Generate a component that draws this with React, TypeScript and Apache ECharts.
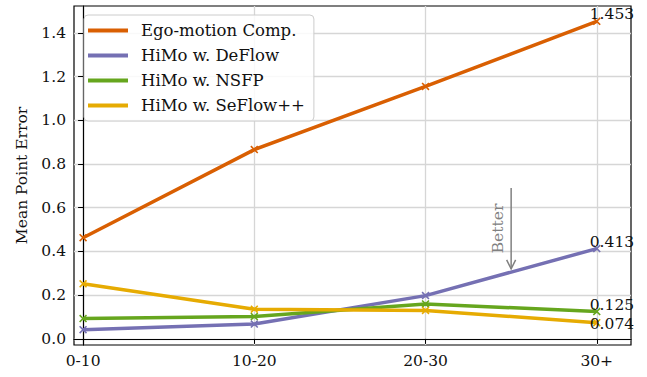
import React, { useEffect, useRef } from "react";
import * as echarts from "echarts";

const categories = ["0-10", "10-20", "20-30", "30+"];
const seriesNames = ["Ego-motion Comp.", "HiMo w. DeFlow", "HiMo w. NSFP", "HiMo w. SeFlow++"];
const egoMotion = [0.463, 0.866, 1.155, 1.453];
const deflow = [0.042, 0.068, 0.198, 0.413];
const nsfp = [0.093, 0.102, 0.16, 0.125];
const seflow = [0.252, 0.136, 0.13, 0.074];
const colors = ["#d95f02", "#7570b3", "#66a61e", "#e6ab02"];
const yTicks = [0, 0.2, 0.4, 0.6, 0.8, 1.0, 1.2, 1.4];
const xTicks = [0, 1, 2, 3];
// annotation: arrow at x, from yStart to yEnd, text
const arrowX = 2.5;
const arrowYStart = 0.69;
const arrowYEnd = 0.32;
const arrowText = "Better";

const FONT = "DejaVu Serif";
const X_MARK = "path://M0,1.4 L1.4,0 L5,3.6 L8.6,0 L10,1.4 L6.4,5 L10,8.6 L8.6,10 L5,6.4 L1.4,10 L0,8.6 L3.6,5 Z";

export default function App() {
  const ref = useRef<HTMLDivElement>(null);
  useEffect(() => {
    if (!ref.current) return;
    const chart = echarts.init(ref.current, null, { renderer: "svg" });
    const allSeries = [egoMotion, deflow, nsfp, seflow];
    const lineSeries = allSeries.map((vals, si) => ({
      type: "line",
      name: seriesNames[si],
      symbol: X_MARK,
      symbolSize: 8,
      lineStyle: { width: 3.5, color: colors[si] },
      itemStyle: { color: colors[si] },
      z: 3 + si,
      data: vals.map((v, i) => ({
        value: [xTicks[i], v],
        label: {
          show: i === vals.length - 1,
          position: "inside",
          align: "left",
          verticalAlign: si === 3 ? "middle" : "bottom",
          offset: [-7, 1],
          formatter: (p: any) => p.value[1].toFixed(3),
          color: "#111",
          fontFamily: FONT,
          fontSize: 15.5,
        },
      })),
    }));
    const annotation = {
      type: "custom",
      name: "annotation",
      silent: true,
      z: 10,
      data: [[arrowX, arrowYStart, arrowYEnd]],
      renderItem: (params: any, api: any) => {
        const p0 = api.coord([api.value(0), api.value(1)]);
        const p1 = api.coord([api.value(0), api.value(2)]);
        const c = "#808080";
        return {
          type: "group",
          children: [
            { type: "line", shape: { x1: p0[0], y1: p0[1], x2: p1[0], y2: p1[1] }, style: { stroke: c, lineWidth: 1.5 } },
            { type: "polyline", shape: { points: [[p1[0] - 4.5, p1[1] - 9], [p1[0], p1[1]], [p1[0] + 4.5, p1[1] - 9]] }, style: { stroke: c, lineWidth: 1.5, fill: "none" } },
            {
              type: "text",
              x: p0[0] - 13,
              y: (p0[1] + p1[1]) / 2,
              rotation: Math.PI / 2,
              style: { text: arrowText, fill: c, font: `15.5px "${FONT}"`, align: "center", verticalAlign: "middle" },
            },
          ],
        };
      },
    };
    chart.setOption({
      animation: false,
      grid: { left: 74, right: 16, top: 6, bottom: 32, show: true, borderColor: "#000", borderWidth: 1.2, backgroundColor: "transparent" },
      legend: {
        data: seriesNames,
        orient: "vertical",
        left: 84,
        top: 15,
        padding: [7, 9, 7, 4],
        itemWidth: 40,
        itemHeight: 4,
        itemGap: 8,
        icon: "rect",
        backgroundColor: "rgba(255,255,255,0.85)",
        borderColor: "#cccccc",
        borderWidth: 1,
        borderRadius: 4,
        textStyle: { fontFamily: FONT, fontSize: 16.5, color: "#111", padding: [0, 0, 0, 8] },
      },
      xAxis: {
        type: "value",
        min: -0.053,
        max: 3.2,
        axisLine: { show: true, lineStyle: { color: "#000", width: 1.2 } },
        axisTick: { show: true, length: 5, lineStyle: { color: "#000" }, customValues: xTicks },
        axisLabel: { customValues: xTicks, formatter: (v: number) => categories[Math.round(v)] ?? "", fontFamily: FONT, fontSize: 15.5, color: "#111", margin: 8 },
        splitLine: { show: true, lineStyle: { color: "#d6d6d6", width: 1.3 } },
      },
      yAxis: {
        type: "value",
        min: -0.028,
        max: 1.523,
        name: "Mean Point Error",
        nameLocation: "middle",
        nameGap: 44,
        nameTextStyle: { fontFamily: FONT, fontSize: 15.5, color: "#111" },
        axisLine: { show: true, lineStyle: { color: "#000", width: 1.2 } },
        axisTick: { show: true, length: 5, lineStyle: { color: "#000" }, customValues: yTicks },
        axisLabel: { customValues: yTicks, formatter: (v: number) => v.toFixed(1), fontFamily: FONT, fontSize: 15.5, color: "#111", margin: 8 },
        splitLine: { show: true, lineStyle: { color: "#d6d6d6", width: 1.3 } },
      },
      series: [...lineSeries, annotation],
    } as any);
    return () => chart.dispose();
  }, []);
  return <div ref={ref} style={{ position: "fixed", left: 0, top: 0, width: 647, height: 377, background: "#fff" }} />;
}
